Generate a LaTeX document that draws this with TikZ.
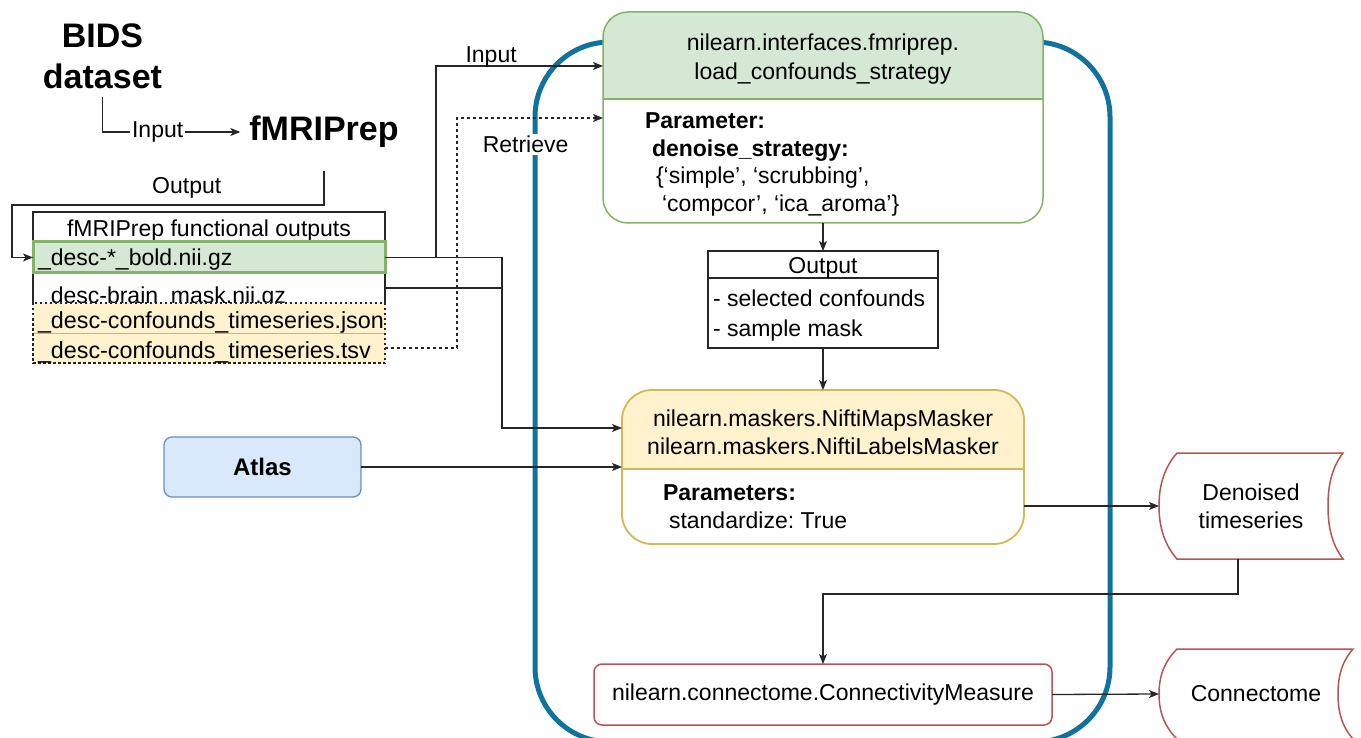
\documentclass[tikz,border=0pt]{standalone}
\usepackage{fontspec}
\setmainfont{Liberation Sans}
\usetikzlibrary{arrows.meta}
\definecolor{gfill}{HTML}{D5E8D4}
\definecolor{gline}{HTML}{82B366}
\definecolor{yfill}{HTML}{FFF2CC}
\definecolor{yline}{HTML}{D6B656}
\definecolor{bfill}{HTML}{DAE8FC}
\definecolor{bline}{HTML}{6C8EBF}
\definecolor{rline}{HTML}{B85450}
\definecolor{bigblue}{HTML}{10739E}
\frenchspacing
\begin{document}
\begin{tikzpicture}[x=1pt,y=-1pt,
  every node/.style={font=\fontsize{23}{29}\selectfont, inner sep=0pt, outer sep=0pt},
  ln/.style={anchor=west, text height=17pt, text depth=5pt},
  lnb/.style={ln, font=\fontsize{23}{29}\selectfont\bfseries},
  arr/.style={line width=1.3pt, draw=black!85, -{Stealth[length=10pt,width=8pt,inset=2.5pt]}},
  wire/.style={line width=1.3pt, draw=black!85},
  dots/.style={dash pattern=on 3pt off 3pt},
  boldbig/.style={font=\fontsize{34}{41}\selectfont\bfseries},
  rowbox/.style={minimum width=352pt, minimum height=30pt, anchor=north west},
]
\useasboundingbox (0,0) rectangle (1361,738);

% big blue container
\draw[bigblue, line width=5pt, rounded corners=75pt] (535,42) rectangle (1110,742);

% BIDS -> fMRIPrep
\node[boldbig, align=center] (bids) at (102.5,56) {BIDS\\dataset};
\node[boldbig] (fmriprep) at (324,132) {fMRIPrep};
\draw[arr] ([yshift=-8pt]bids.south) |- node[pos=0.7, fill=white, inner xsep=2pt, inner ysep=1pt]{Input} ([xshift=-9pt]fmriprep.west);

% table of outputs
\node[draw=black!85, line width=1.3pt, fill=white, minimum width=352pt, minimum height=92pt, anchor=north west] (tab) at (33,212) {};
\node[anchor=base] (tabhead) at (209,237) {fMRIPrep functional outputs};
\node[rowbox, fill=gfill, draw=gline, line width=3pt, minimum height=31pt] (boldrow) at (33,242) {};
\node[anchor=base west] (boldtxt) at (38,266) {\_desc-*\_bold.nii.gz};
\node[rowbox] (maskrow) at (33,273) {};
\node[anchor=base west] (masktxt) at (38,304) {\_desc-brain\_mask.nii.gz};
\node[rowbox, fill=yfill] (jsonrow) at (33,303) {};
\node[rowbox, fill=yfill] (tsvrow) at (33,333) {};
\draw[yline, line width=1pt] (jsonrow.south west) -- (jsonrow.south east);
\draw[black!85, line width=1.3pt, dash pattern=on 2.5pt off 2.5pt] (jsonrow.north west) rectangle (tsvrow.south east);
\node[anchor=base west, font=\fontsize{23.3}{29}\selectfont] (jsontxt) at (38,328) {\_desc-confounds\_timeseries.json};
\node[anchor=base west, font=\fontsize{23.3}{29}\selectfont] (tsvtxt) at (38,358) {\_desc-confounds\_timeseries.tsv};

\coordinate (ocorner) at (12,205);
\draw[arr] ([yshift=-23pt]fmriprep.south) |- node[pos=0.72, anchor=south, yshift=7pt]{Output} (ocorner) |- (boldrow.west);

% green box
\node[fill=white, rounded corners=25pt, minimum width=440pt, minimum height=211pt, anchor=north west] (load) at (603,12) {};
\begin{scope}
  \clip[rounded corners=25pt] (603,12) rectangle (1043,223);
  \fill[gfill] (603,12) rectangle (1043,99);
\end{scope}
\draw[gline, line width=1.5pt, rounded corners=25pt] (load.north west) rectangle (load.south east);
\draw[gline, line width=1.5pt] (603,99) -- (1043,99);
\node[align=center] (loadtitle) at (823,59.5) {nilearn.interfaces.fmriprep.\\load\_confounds\_strategy};
\node[lnb] (lp1) at (645,123) {Parameter:};
\node[lnb] (lp2) at (652,151) {denoise\_strategy:};
\node[ln] (lp3) at (656,178) {\{‘simple’, ‘scrubbing’,};
\node[ln] (lp4) at (662,206) {‘compcor’, ‘ica\_aroma’\}};

% output box
\node[draw=black!85, line width=1.3pt, fill=white, minimum width=230pt, minimum height=97pt, anchor=north west] (out) at (708,251) {};
\draw[black!85, line width=1.3pt] (708,278) -- (938,278);
\node (outhead) at (823,268) {Output};
\node[ln] (o1) at (713,301) {- selected confounds};
\node[ln] (o2) at (713,331) {- sample mask};

% masker box
\node[fill=white, rounded corners=30pt, minimum width=402pt, minimum height=154pt, anchor=north west] (masker) at (622,390) {};
\begin{scope}
  \clip[rounded corners=30pt] (622,390) rectangle (1024,544);
  \fill[yfill] (622,390) rectangle (1024,469);
\end{scope}
\draw[yline, line width=1.8pt, rounded corners=30pt] (masker.north west) rectangle (masker.south east);
\draw[yline, line width=1.8pt] (622,469) -- (1024,469);
\node[align=center, font=\fontsize{23}{28}\selectfont] (maskertitle) at (823,432) {nilearn.maskers.NiftiMapsMasker\\nilearn.maskers.NiftiLabelsMasker};
\node[lnb] (mp1) at (663,494) {Parameters:};
\node[ln] (mp2) at (669,522) {standardize: True};

% atlas
\node[draw=bline, fill=bfill, line width=1.3pt, rounded corners=8pt, minimum width=197pt, minimum height=60pt, font=\fontsize{24}{29}\selectfont\bfseries] (atlas) at (262.5,467) {Atlas};

% connectivity
\node[draw=rline, line width=1.5pt, rounded corners=8pt, minimum width=458pt, minimum height=61pt, fill=white] (conn) at (823,694.5) {nilearn.connectome.ConnectivityMeasure};

% denoised timeseries (stored data shape)
\draw[rline, line width=1.5pt, fill=white] (1177,453) -- (1343,453) .. controls (1330,470) and (1328,490) .. (1328,506) .. controls (1328,522) and (1330,542) .. (1343,559) -- (1177,559) .. controls (1162,542) and (1159,522) .. (1159,506) .. controls (1159,490) and (1162,470) .. (1177,453) -- cycle;
\node[minimum width=184pt, minimum height=106pt, align=center, font=\fontsize{23}{28}\selectfont] (den) at (1251,506) {Denoised\\timeseries};

% connectome
\draw[rline, line width=1.5pt, fill=white] (1177,649) -- (1353,649) .. controls (1340,664) and (1338,680) .. (1338,694) .. controls (1338,708) and (1340,724) .. (1353,739) -- (1177,739) .. controls (1162,724) and (1159,708) .. (1159,694) .. controls (1159,680) and (1162,664) .. (1177,649) -- cycle;
\node[minimum width=194pt, minimum height=90pt] (ctome) at (1256,694) {Connectome};

% connectors
\coordinate (jx) at (502,428);
\coordinate (ix) at (436,66);
\coordinate (rx) at (457,118);
\draw[arr] (boldrow.east) -| (ix) -- node[pos=0.33, anchor=south, yshift=-1pt]{Input} (ix -| load.west);
\draw[arr] (boldrow.east) -| (jx) -- (jx -| masker.west);
\draw[wire] (maskrow.east) -- (maskrow.east -| jx);
\draw[arr, dots] (tsvrow.east) -| (rx) -- node[pos=0.47, anchor=north, yshift=-16pt, fill=white, inner sep=2pt]{Retrieve} (rx -| load.west);
\draw[arr] (atlas.east) -- (atlas.east -| masker.west);
\draw[arr] (load.south) -- (out.north);
\draw[arr] (out.south) -- (masker.north);
\draw[arr] (masker.east |- den.west) -- (den.west);
\draw[arr] ([xshift=-13pt]den.south) -- ++(0,35) -| (conn.north);
\draw[arr] (conn.east) -- (ctome.west);
\end{tikzpicture}
\end{document}
